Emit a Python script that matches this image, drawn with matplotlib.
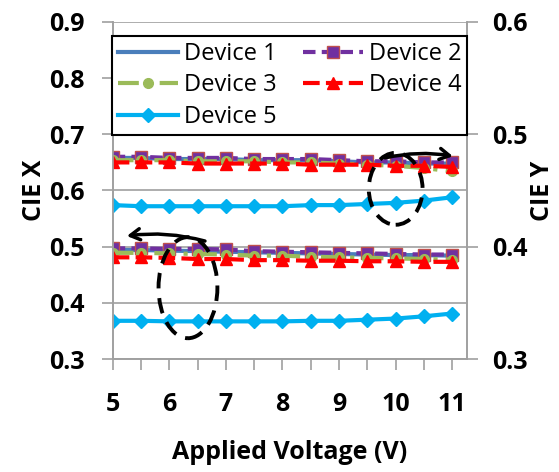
import matplotlib.pyplot as plt
from matplotlib.patches import Ellipse
from matplotlib.ticker import MultipleLocator

plt.rcParams['font.family'] = 'Open Sans'

voltage = [5, 5.5, 6, 6.5, 7, 7.5, 8, 8.5, 9, 9.5, 10, 10.5, 11]

# CIE x (left axis)
x_dev1 = [0.494, 0.494, 0.493, 0.492, 0.491, 0.490, 0.489, 0.488, 0.487, 0.486, 0.485, 0.485, 0.484]
x_dev2 = [0.497, 0.497, 0.496, 0.496, 0.495, 0.492, 0.491, 0.490, 0.489, 0.488, 0.487, 0.486, 0.486]
x_dev3 = [0.489, 0.489, 0.488, 0.487, 0.486, 0.484, 0.484, 0.482, 0.481, 0.480, 0.479, 0.478, 0.477]
x_dev4 = [0.481, 0.481, 0.480, 0.478, 0.478, 0.476, 0.476, 0.475, 0.475, 0.474, 0.474, 0.473, 0.473]
x_dev5 = [0.368, 0.368, 0.367, 0.367, 0.367, 0.367, 0.367, 0.368, 0.368, 0.370, 0.372, 0.376, 0.381]

# CIE y (right axis)
y_dev1 = [0.479, 0.479, 0.478, 0.478, 0.478, 0.477, 0.477, 0.477, 0.476, 0.475, 0.475, 0.474, 0.474]
y_dev2 = [0.480, 0.480, 0.479, 0.479, 0.479, 0.478, 0.478, 0.478, 0.477, 0.476, 0.476, 0.475, 0.475]
y_dev3 = [0.477, 0.477, 0.477, 0.476, 0.476, 0.476, 0.475, 0.475, 0.474, 0.473, 0.472, 0.470, 0.467]
y_dev4 = [0.475, 0.475, 0.475, 0.474, 0.474, 0.474, 0.474, 0.473, 0.473, 0.473, 0.472, 0.472, 0.471]
y_dev5 = [0.437, 0.436, 0.436, 0.436, 0.436, 0.436, 0.436, 0.437, 0.437, 0.438, 0.439, 0.441, 0.444]

labels = ['Device 1', 'Device 2', 'Device 3', 'Device 4', 'Device 5']
colors = ['#4a7ebb', '#7030a0', '#9bbb59', '#ff0000', '#00b0f0']
styles = [
    dict(linestyle='-', marker=None),
    dict(linestyle=(0, (3, 1.5)), marker='s', markersize=8, markeredgecolor='#c0504d', markeredgewidth=1),
    dict(linestyle=(0, (5, 2, 1, 2)), marker='o', markersize=7),
    dict(linestyle=(0, (4, 1.5)), marker='^', markersize=9),
    dict(linestyle='-', marker='D', markersize=7),
]

fig = plt.figure(figsize=(5.59, 4.72), dpi=100)
ax = fig.add_axes([0.2016, 0.2394, 0.6338, 0.714])
ax2 = ax.twinx()

x_sets = [x_dev1, x_dev2, x_dev3, x_dev4, x_dev5]
y_sets = [y_dev1, y_dev2, y_dev3, y_dev4, y_dev5]
handles = []
for xs, ys, lab, c, st in zip(x_sets, y_sets, labels, colors, styles):
    h, = ax.plot(voltage, xs, color=c, linewidth=3, label=lab, **st)
    ax2.plot(voltage, ys, color=c, linewidth=3, **st)
    handles.append(h)

grey = '#a0a0a0'
ax.set_xlim(5, 11.26)
ax.set_ylim(0.3, 0.9)
ax2.set_ylim(0.3, 0.6)
ax.xaxis.set_major_locator(MultipleLocator(1))
ax.xaxis.set_minor_locator(MultipleLocator(0.5))
ax.grid(axis='y', color=grey, linewidth=1.2)
ax.set_axisbelow(True)

for a in (ax, ax2):
    for s in a.spines.values():
        s.set_color(grey)
        s.set_linewidth(1.2)
    a.spines['top'].set_visible(False)

ax.tick_params(axis='x', which='both', direction='out', length=8, color=grey, width=1.2,
               labelsize=18, pad=16)
ax.tick_params(axis='y', direction='out', length=8, color=grey, width=1.2, labelsize=18, pad=12)
ax2.tick_params(axis='y', direction='out', length=8, color=grey, width=1.2, labelsize=18, pad=10)
for lbl in ax.get_xticklabels():
    lbl.set_fontweight('bold')

ax.set_yticks([0.3, 0.4, 0.5, 0.6, 0.7, 0.8, 0.9])
ax.set_yticklabels(['0.3', '0.4', '0.5', '0.6', '0.7', '0.8', '0.9'], fontweight='bold')
ax2.set_yticks([0.3, 0.4, 0.5, 0.6])
ax2.set_yticklabels(['0.3', '0.4', '0.5', '0.6'], fontweight='bold')

ax.set_xlabel('Applied Voltage (V)', fontsize=18, fontweight='bold', labelpad=16)
ax.set_ylabel('CIE X', fontsize=18, fontweight='bold', labelpad=2)
ax2.set_ylabel('CIE Y', fontsize=18, fontweight='bold', labelpad=2)

# dashed ellipses and arrows pointing to each axis
e1 = Ellipse((10.0, 0.603), 0.95, 0.128, transform=ax.transData, fill=False,
             edgecolor='black', linewidth=2.8, linestyle=(0, (4, 2.5)), zorder=10)
e2 = Ellipse((6.33, 0.427), 1.04, 0.18, transform=ax.transData, fill=False,
             edgecolor='black', linewidth=2.8, linestyle=(0, (4, 2.5)), zorder=10)
ax2.add_patch(e1)
ax2.add_patch(e2)
arrow_kw = dict(arrowstyle='->,head_length=0.7,head_width=0.4', color='black',
                lw=2.5, shrinkA=0, shrinkB=0)
ax2.annotate('', xy=(11.01, 0.661), xytext=(9.81, 0.658), xycoords=ax.transData,
             textcoords=ax.transData,
             arrowprops=dict(connectionstyle='arc3,rad=-0.1', **arrow_kw), zorder=10)
ax2.annotate('', xy=(5.25, 0.519), xytext=(6.63, 0.510), xycoords=ax.transData,
             textcoords=ax.transData,
             arrowprops=dict(connectionstyle='arc3,rad=0.1', **arrow_kw), zorder=10)

# Excel fills legend row by row
order = [0, 2, 4, 1, 3]
leg = ax2.legend(handles=[handles[i] for i in order], loc='upper left', ncol=2, fontsize=17,
                 bbox_to_anchor=(112 / 559, 1 - 36 / 472),
                 bbox_transform=fig.transFigure, frameon=True,
                 fancybox=False, framealpha=1, edgecolor='black', handlelength=2.55,
                 handletextpad=0.25, labelspacing=0.32, borderpad=0.25, borderaxespad=0,
                 columnspacing=1.1)
leg.get_frame().set_linewidth(1.5)
leg.set_zorder(20)

fig.savefig('out.png', dpi=100)
